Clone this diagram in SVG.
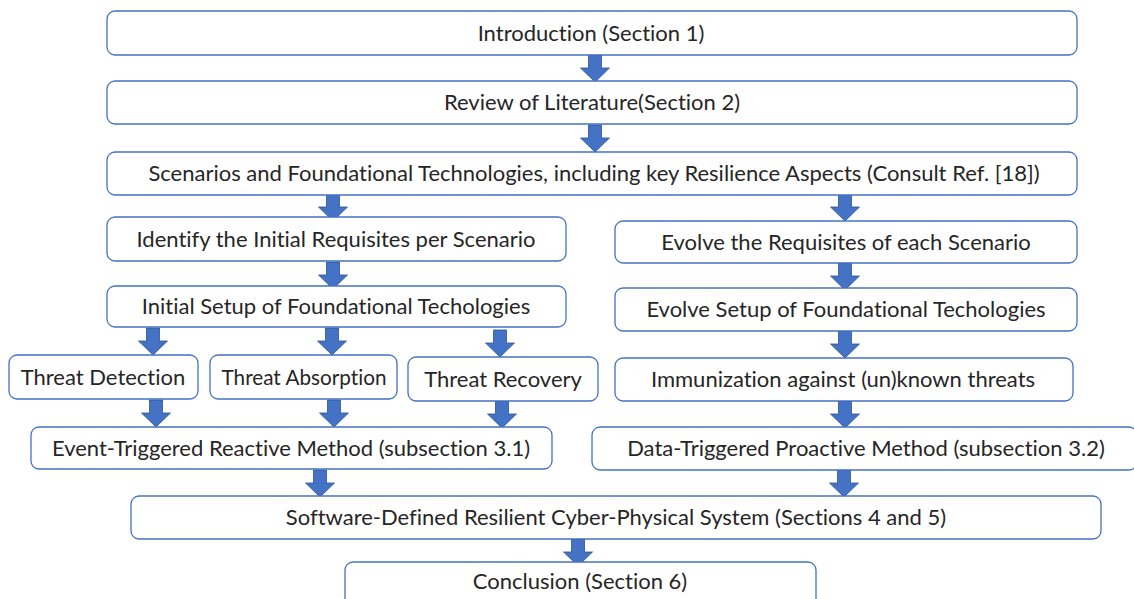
<svg xmlns="http://www.w3.org/2000/svg" xmlns:xlink="http://www.w3.org/1999/xlink" width="1134" height="599" viewBox="0 0 1134 599">
<style>
.box{fill:#ffffff;stroke:#4472C4;stroke-width:1.3}
.t{font-family:Lato,"Liberation Sans",sans-serif;font-size:22px;fill:#262626;text-anchor:middle;font-variant-ligatures:none}
.arr{fill:#4472C4;stroke:#2F528F;stroke-width:0.8}
</style>
<defs>
<path id="a" d="M-6.5,0 H6.5 V13 H14.5 L0,27 L-14.5,13 H-6.5 Z"/>
</defs>
<rect width="1134" height="599" fill="#ffffff"/>
<g id="connectors">
<use href="#a" class="arr" x="595" y="55"/>
<use href="#a" class="arr" x="595" y="125"/>
<use href="#a" class="arr" x="333" y="194"/>
<use href="#a" class="arr" x="845" y="194"/>
<use href="#a" class="arr" x="333" y="262"/>
<use href="#a" class="arr" x="845" y="263"/>
<use href="#a" class="arr" x="153" y="328"/>
<use href="#a" class="arr" x="332" y="328"/>
<use href="#a" class="arr" x="500" y="330"/>
<use href="#a" class="arr" x="845" y="331"/>
<use href="#a" class="arr" x="156" y="400"/>
<use href="#a" class="arr" x="334" y="400"/>
<use href="#a" class="arr" x="502" y="401"/>
<use href="#a" class="arr" x="845" y="401"/>
<use href="#a" class="arr" x="320" y="470"/>
<use href="#a" class="arr" x="844" y="470"/>
<use href="#a" class="arr" x="578" y="539"/>
</g>
<g id="intro"><rect class="box" x="107" y="11" width="970" height="44" rx="8"/><text class="t" x="591" y="41">Introduction (Section 1)</text></g>
<g id="review"><rect class="box" x="107" y="81" width="970" height="43" rx="8"/><text class="t" x="592" y="110">Review of Literature(Section 2)</text></g>
<g id="scenarios"><rect class="box" x="107" y="152" width="970" height="43" rx="8"/><text class="t" x="594" y="181">Scenarios and Foundational Technologies, including key Resilience Aspects (Consult Ref. [18])</text></g>
<g id="identify"><rect class="box" x="107" y="217" width="459" height="44" rx="8"/><text class="t" x="336" y="247">Identify the Initial Requisites per Scenario</text></g>
<g id="evolveReq"><rect class="box" x="615" y="221" width="462" height="42" rx="8"/><text class="t" x="846" y="250">Evolve the Requisites of each Scenario</text></g>
<g id="initialSetup"><rect class="box" x="107" y="286" width="459" height="41" rx="8"/><text class="t" x="336" y="314">Initial Setup of Foundational Techologies</text></g>
<g id="evolveSetup"><rect class="box" x="615" y="288" width="462" height="43" rx="8"/><text class="t" x="846" y="317">Evolve Setup of Foundational Techologies</text></g>
<g id="detection"><rect class="box" x="9" y="355" width="189" height="44" rx="8"/><text class="t" x="103" y="385">Threat Detection</text></g>
<g id="absorption"><rect class="box" x="210" y="355" width="187" height="44" rx="8"/><text class="t" x="304" y="385" textLength="165" lengthAdjust="spacingAndGlyphs">Threat Absorption</text></g>
<g id="recovery"><rect class="box" x="408" y="357" width="190" height="44" rx="8"/><text class="t" x="503" y="387">Threat Recovery</text></g>
<g id="immunization"><rect class="box" x="615" y="358" width="458" height="43" rx="8"/><text class="t" x="843" y="387">Immunization against (un)known threats</text></g>
<g id="reactive"><rect class="box" x="31" y="427" width="521" height="42" rx="8"/><text class="t" x="291" y="456">Event-Triggered Reactive Method (subsection 3.1)</text></g>
<g id="proactive"><rect class="box" x="592" y="427" width="545" height="43" rx="8"/><text class="t" x="866" y="456">Data-Triggered Proactive Method (subsection 3.2)</text></g>
<g id="sdrcps"><rect class="box" x="131" y="496" width="970" height="43" rx="8"/><text class="t" x="616" y="525">Software-Defined Resilient Cyber-Physical System (Sections 4 and 5)</text></g>
<g id="conclusion"><rect class="box" x="345" y="562" width="471" height="50" rx="8"/><text class="t" x="580" y="589">Conclusion (Section 6)</text></g>
</svg>
